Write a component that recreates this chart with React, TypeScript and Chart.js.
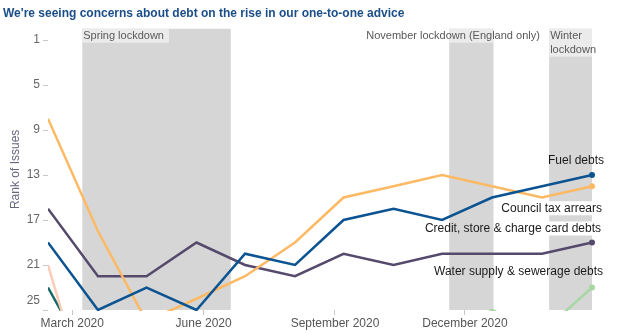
import React, { useEffect, useRef } from "react";
import { Chart, registerables } from "chart.js";

Chart.register(...registerables);

// ---- data ----
const chartTitle = "We're seeing concerns about debt on the rise in our one-to-one advice";
const yAxisTitle = "Rank of Issues";

const periodDates = [
  "2020-02-13", "2020-03-19", "2020-04-22", "2020-05-27", "2020-06-30", "2020-08-04",
  "2020-09-07", "2020-10-12", "2020-11-15", "2020-12-20", "2021-01-24", "2021-02-28",
];

const fuelDebts = [19, 25, 23, 25, 20, 21, 17, 16, 17, 15, 14, 13];
const councilTaxArrears = [8, 18, 26, 24, 22, 19, 15, 14, 13, 14, 15, 14];
const creditStoreCardDebts = [16, 22, 22, 19, 21, 22, 20, 21, 20, 20, 20, 19];
const waterSewerageDebts = [null, null, null, null, null, null, null, null, 28, 25, 27, 23];
const otherIssuePink = [21, 36, null, null, null, null, null, null, null, null, null, null];
const otherIssueTeal = [23, 31, null, null, null, null, null, null, null, null, null, null];

const seriesLabels = ["Fuel debts", "Council tax arrears", "Credit, store & charge card debts", "Water supply & sewerage debts", "", ""];

const xTickDates = ["2020-03-01", "2020-06-01", "2020-09-01", "2020-12-01"];
const xTickLabels = ["March 2020", "June 2020", "September 2020", "December 2020"];
const rankTicks = [1, 5, 9, 13, 17, 21, 25];

const lockdownNames = ["Spring lockdown", "November lockdown (England only)", "Winter\nlockdown"];
const lockdownStarts = ["2020-03-08", "2020-11-20", "2021-01-29"];
const lockdownEnds = ["2020-06-20", "2020-12-21", "2021-02-28"];

// ---- helpers ----
const BASE = Date.UTC(2020, 2, 1);
function dayOf(s: string): number {
  const [y, m, d] = s.split("-").map(Number);
  return (Date.UTC(y, m - 1, d) - BASE) / 86400000;
}
const xs = periodDates.map(dayOf);
const toPoints = (vals: (number | null)[]) => vals.map((v, i) => ({ x: xs[i], y: v }));
const lastRank = rankTicks[rankTicks.length - 1];

const seriesColors = ["#0b5391", "#fdb963", "#554a6c", "#a8d6a4", "#fcccb6", "#17696a"];
// label placement relative to last point (pixels), [dx of right edge, dy of centre, white box]
const labelOffsets: [number, number, boolean][] = [
  [12, -14, false],
  [10, 22, true],
  [9, -14, true],
  [11, -16, false],
];
const lockdownLabelShift = [1, -83, 1];

const FONT = "'Liberation Sans', Arial, sans-serif";

const decorPlugin = {
  id: "decor",
  beforeDatasetsDraw(chart: any) {
    const { ctx, chartArea, scales } = chart;
    const xScale = scales.x;
    ctx.save();
    // title
    ctx.font = `bold 12px ${FONT}`;
    ctx.fillStyle = "#1b4e89";
    ctx.textAlign = "left";
    ctx.textBaseline = "alphabetic";
    ctx.fillText(chartTitle, 3, 17);
    // last y tick label kept inside the plot height
    ctx.font = `12px ${FONT}`;
    ctx.fillStyle = "#666666";
    ctx.textAlign = "right";
    ctx.textBaseline = "middle";
    ctx.fillText(String(lastRank), chartArea.left - 8, scales.y.getPixelForValue(lastRank) - 9);
    ctx.textAlign = "left";
    // bands
    lockdownNames.forEach((name, i) => {
      const x0 = xScale.getPixelForValue(dayOf(lockdownStarts[i]));
      const x1 = xScale.getPixelForValue(dayOf(lockdownEnds[i]));
      ctx.fillStyle = "#d6d6d6";
      ctx.fillRect(x0, chartArea.top, x1 - x0, chartArea.bottom - chartArea.top);
      const lines = name.split("\n");
      ctx.font = `11px ${FONT}`;
      const tw = Math.max(...lines.map((l) => ctx.measureText(l).width));
      const tx = x0 + lockdownLabelShift[i];
      const bx0 = Math.max(x0, tx - 1);
      const bx1 = Math.min(x1, tx + tw + 5);
      const bh = 14 * lines.length;
      ctx.fillStyle = "#ebebeb";
      if (bx1 > bx0) ctx.fillRect(bx0, chartArea.top, bx1 - bx0, bh);
      ctx.fillStyle = "#595959";
      ctx.textBaseline = "middle";
      lines.forEach((l, k) => ctx.fillText(l, tx, chartArea.top + 7 + k * 14));
    });
    ctx.restore();
  },
  afterDatasetsDraw(chart: any) {
    const { ctx, scales } = chart;
    const winterX = scales.x.getPixelForValue(dayOf(lockdownStarts[2]));
    ctx.save();
    ctx.font = `12px ${FONT}`;
    ctx.textAlign = "right";
    ctx.textBaseline = "middle";
    labelOffsets.forEach(([dx, dy, box], i) => {
      const meta = chart.getDatasetMeta(i);
      const pt = meta.data[meta.data.length - 1];
      const xr = pt.x + dx;
      const yc = pt.y + dy;
      const w = ctx.measureText(seriesLabels[i]).width;
      if (box) {
        ctx.fillStyle = "#ffffff";
        const bx0 = Math.max(xr - w - 1, winterX - 10);
        ctx.fillRect(bx0, yc - 7, xr + 1 - bx0, 14);
      }
      ctx.fillStyle = "#1a1a1a";
      ctx.fillText(seriesLabels[i], xr, yc);
    });
    ctx.restore();
  },
};

export default function App() {
  const ref = useRef<HTMLCanvasElement>(null);
  useEffect(() => {
    if (!ref.current) return;
    Chart.defaults.font.family = FONT;
    const allSeries = [fuelDebts, councilTaxArrears, creditStoreCardDebts, waterSewerageDebts, otherIssuePink, otherIssueTeal];
    const datasets = allSeries.map((vals, i) => ({
      label: seriesLabels[i] || `other ${i}`,
      data: toPoints(vals),
      borderColor: seriesColors[i],
      backgroundColor: seriesColors[i],
      borderWidth: 2.5,
      pointRadius: (c: any) => (i < 4 && c.dataIndex === vals.length - 1 ? 3 : 0),
      pointBorderWidth: 0,
      pointHoverRadius: 0,
      tension: 0,
      spanGaps: false,
      clip: { left: 0, top: 0, right: 6, bottom: 1 },
    }));
    const chart = new Chart(ref.current, {
      type: "line",
      data: { datasets: datasets as any },
      options: {
        animation: false,
        responsive: false,
        maintainAspectRatio: false,
        layout: { padding: { top: 28.75, right: 30, bottom: 0, left: 0 } },
        plugins: { legend: { display: false }, tooltip: { enabled: false }, title: { display: false } },
        scales: {
          x: {
            type: "linear",
            min: xs[0],
            max: xs[xs.length - 1],
            afterBuildTicks: (s: any) => {
              s.ticks = xTickDates.map((d) => ({ value: dayOf(d) }));
            },
            afterFit: (s: any) => {
              s.height = 24;
            },
            ticks: {
              autoSkip: false,
              maxRotation: 0,
              padding: 1,
              color: "#555555",
              font: { size: 12 },
              callback: (v: any) => {
                const idx = xTickDates.findIndex((d) => dayOf(d) === v);
                return idx >= 0 ? xTickLabels[idx] : "";
              },
            },
            grid: { drawOnChartArea: false, tickLength: 5, color: "#c8c8c8" },
            border: { display: false },
          },
          y: {
            type: "linear",
            reverse: true,
            min: 0,
            max: 25,
            afterBuildTicks: (s: any) => {
              s.ticks = rankTicks.map((v) => ({ value: v }));
            },
            afterFit: (s: any) => {
              s.width = 48;
            },
            ticks: {
              padding: 3,
              color: "#666666",
              font: { size: 12 },
              callback: (v: any) => (v === lastRank ? "" : String(v)),
            },
            grid: { drawOnChartArea: false, tickLength: 5, color: "#c8c8c8" },
            border: { display: false },
            title: {
              display: true,
              text: yAxisTitle,
              color: "#66667e",
              font: { size: 12 },
              padding: { top: 8, bottom: 0 },
            },
          },
        },
      },
      plugins: [decorPlugin],
    });
    return () => chart.destroy();
  }, []);
  return (
    <div style={{ position: "absolute", left: 0, top: 0, width: 622, height: 334 }}>
      <canvas ref={ref} width={622} height={334} style={{ width: 622, height: 334 }} />
    </div>
  );
}
